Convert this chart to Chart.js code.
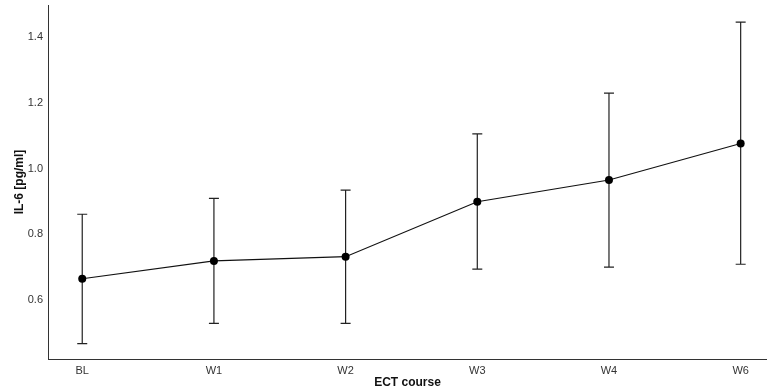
<!DOCTYPE html>
<html>
<head>
<meta charset="utf-8">
<script src="https://cdn.jsdelivr.net/npm/chart.js@4/dist/chart.umd.min.js"></script>
<style>
  html, body { margin: 0; padding: 0; background: #fff; }
  #wrap { width: 767px; height: 390px; position: relative; }
</style>
</head>
<body>
<div id="wrap"><canvas id="ilChart" width="767" height="390"></canvas></div>
<script>
var CATEGORIES = ['BL', 'W1', 'W2', 'W3', 'W4', 'W6'];
var MEANS = [0.665, 0.719, 0.732, 0.899, 0.965, 1.076];
var ERR_LOW = [0.468, 0.529, 0.529, 0.694, 0.700, 0.709];
var ERR_HIGH = [0.861, 0.909, 0.934, 1.105, 1.229, 1.445];
var Y_TICKS = [0.6, 0.8, 1.0, 1.2, 1.4];

var points = [];
for (var i = 0; i < CATEGORIES.length; i++) {
  points.push({ x: i, y: MEANS[i] });
}

// whiskers drawn through the chart scales
var errorBars = {
  id: 'errorBars',
  beforeDatasetsDraw: function(chart) {
    var ctx = chart.ctx;
    var xs = chart.scales.x, ys = chart.scales.y;
    ctx.save();
    ctx.strokeStyle = '#222';
    ctx.lineWidth = 1.2;
    for (var i = 0; i < CATEGORIES.length; i++) {
      var px = xs.getPixelForValue(i);
      var top = ys.getPixelForValue(ERR_HIGH[i]);
      var bot = ys.getPixelForValue(ERR_LOW[i]);
      ctx.beginPath();
      ctx.moveTo(px, top); ctx.lineTo(px, bot);
      ctx.moveTo(px - 5, top); ctx.lineTo(px + 5, top);
      ctx.moveTo(px - 5, bot); ctx.lineTo(px + 5, bot);
      ctx.stroke();
    }
    ctx.restore();
  }
};

var ctx = document.getElementById('ilChart');
new Chart(ctx, {
  type: 'line',
  data: {
    datasets: [{
      data: points,
      borderColor: '#111',
      borderWidth: 1.2,
      backgroundColor: '#000',
      pointRadius: 4,
      pointBackgroundColor: '#000',
      pointBorderWidth: 0,
      tension: 0,
      clip: false
    }]
  },
  options: {
    responsive: false,
    animation: false,
    layout: { autoPadding: false, padding: { top: 5, right: 0, left: 0, bottom: 0 } },
    plugins: { legend: { display: false }, tooltip: { enabled: false } },
    scales: {
      x: {
        type: 'linear',
        min: -0.26,
        max: 5.2,
        grid: { display: false, drawTicks: false },
        border: { color: '#333', width: 1 },
        afterBuildTicks: function(scale) {
          scale.ticks = CATEGORIES.map(function(c, i) { return { value: i }; });
        },
        afterFit: function(scale) {
          scale.height = 31;
          scale.paddingLeft = 0;
          scale.paddingRight = 0;
        },
        ticks: {
          padding: 5,
          color: '#333',
          font: { family: 'Liberation Sans', size: 11 },
          maxRotation: 0,
          callback: function(v) { return CATEGORIES[v]; }
        },
        title: {
          display: true,
          text: 'ECT course',
          color: '#111',
          font: { family: 'Liberation Sans', size: 12, weight: 'bold' },
          padding: { top: -1, bottom: 0 }
        }
      },
      y: {
        min: 0.421,
        max: 1.497,
        grid: { display: false, drawTicks: false },
        border: { color: '#333', width: 1 },
        afterBuildTicks: function(scale) {
          scale.ticks = Y_TICKS.map(function(v) { return { value: v }; });
        },
        afterFit: function(scale) {
          scale.width = 48;
          scale.paddingTop = 0;
          scale.paddingBottom = 0;
        },
        ticks: {
          padding: 5,
          color: '#333',
          font: { family: 'Liberation Sans', size: 11 },
          callback: function(v) { return v.toFixed(1); }
        },
        title: {
          display: true,
          text: 'IL-6 [pg/ml]',
          color: '#111',
          font: { family: 'Liberation Sans', size: 12, weight: 'bold' },
          padding: { top: 12, bottom: 0 }
        }
      }
    }
  },
  plugins: [errorBars]
});
</script>
</body>
</html>
